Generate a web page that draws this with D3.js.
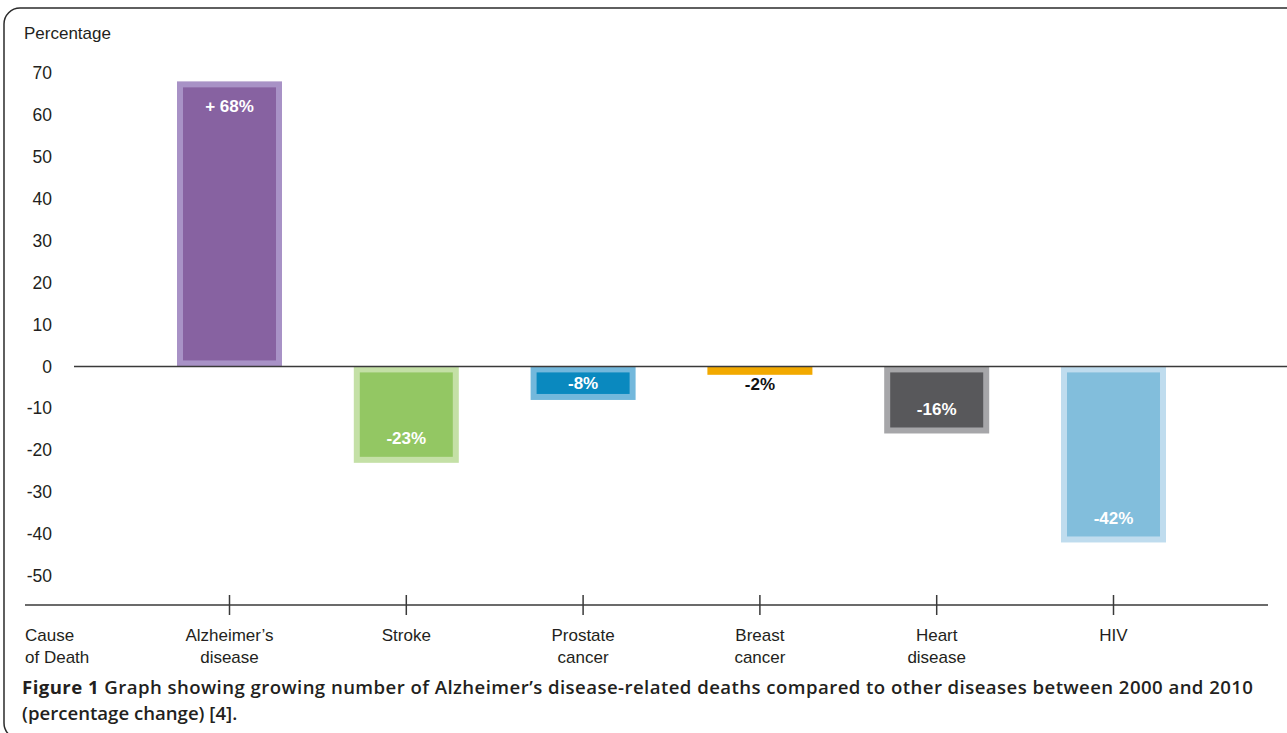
<!DOCTYPE html>
<html>
<head>
<meta charset="utf-8">
<script src="https://cdn.jsdelivr.net/npm/d3@7"></script>
<style>
  html, body { margin: 0; padding: 0; background: #ffffff; }
  svg { display: block; }
</style>
</head>
<body>
<svg id="chart" width="1287" height="733"></svg>
<script>
// Percentage change in deaths, 2000–2010, by cause
const causes = ["Alzheimer’s disease", "Stroke", "Prostate cancer", "Breast cancer", "Heart disease", "HIV"];
const causeLines = [["Alzheimer’s", "disease"], ["Stroke"], ["Prostate", "cancer"], ["Breast", "cancer"], ["Heart", "disease"], ["HIV"]];
const changes = [68, -23, -8, -2, -16, -42];
const changeLabels = ["+ 68%", "-23%", "-8%", "-2%", "-16%", "-42%"];
const yTicks = [70, 60, 50, 40, 30, 20, 10, 0, -10, -20, -30, -40, -50];
const captionBold = "Figure 1";
const captionLine1 = " Graph showing growing number of Alzheimer’s disease-related deaths compared to other diseases between 2000 and 2010";
const captionLine2 = "(percentage change) [4].";

// Fill and rim colours per bar
const fillColors = ["#8762a1", "#93c763", "#0a89bf", "#f2a900", "#58585b", "#82bedc"];
const rimColors  = ["#a892c6", "#c4e0a6", "#73b8dc", "#f2a900", "#a6a6a9", "#bfdcee"];
const labelColors = ["#ffffff", "#ffffff", "#ffffff", "#111111", "#ffffff", "#ffffff"];

const svg = d3.select("#chart");
const FONT = "'Liberation Sans', Arial, Helvetica, sans-serif";
const textColor = "#231f20";

// Rounded frame around the figure
svg.append("rect")
  .attr("x", 4).attr("y", 8)
  .attr("width", 1300).attr("height", 731)
  .attr("rx", 16).attr("ry", 16)
  .attr("fill", "none")
  .attr("stroke", "#2b2b2b")
  .attr("stroke-width", 1.5);

const y = d3.scaleLinear().domain([-50, 70]).range([576, 73]);
const x = d3.scalePoint().domain(causes).range([229.5, 1113.5]);
const barW = 105;
const rim = 6;

// Y axis title
svg.append("text")
  .attr("x", 24).attr("y", 39)
  .attr("font-family", FONT).attr("font-size", 17)
  .attr("fill", textColor)
  .text("Percentage");

// Y tick labels (no axis line), plain hyphen for negatives
const yAxis = d3.axisLeft(y).tickValues(yTicks).tickSize(0).tickPadding(0)
  .tickFormat(d => String(d));
const yg = svg.append("g").attr("transform", "translate(52,0)").call(yAxis);
yg.select(".domain").remove();
yg.selectAll("text")
  .attr("font-family", FONT).attr("font-size", 17.5)
  .attr("fill", textColor);

// Bars: light rim with a darker inset fill
const bars = svg.append("g");
causes.forEach((c, i) => {
  const v = changes[i];
  const y0 = y(0), y1 = y(v);
  const top = Math.min(y0, y1), h = Math.abs(y1 - y0);
  const left = x(c) - barW / 2;
  bars.append("rect")
    .attr("x", left).attr("y", top)
    .attr("width", barW).attr("height", h)
    .attr("fill", rimColors[i]);
  if (h > 2 * rim + 2) {
    bars.append("rect")
      .attr("x", left + rim).attr("y", top + rim)
      .attr("width", barW - 2 * rim).attr("height", h - 2 * rim)
      .attr("fill", fillColors[i]);
  }
});

// Zero line
svg.append("line")
  .attr("x1", 74).attr("x2", 1287)
  .attr("y1", y(0)).attr("y2", y(0))
  .attr("stroke", "#3a3a3a").attr("stroke-width", 1.5);

// Value labels
causes.forEach((c, i) => {
  const v = changes[i];
  const h = Math.abs(y(v) - y(0));
  let cy;
  if (h < 20) cy = y(0) + 17;             // tiny bar: label sits below it
  else if (h < 60) cy = (y(0) + y(v)) / 2; // short bar: centred
  else cy = v > 0 ? y(v) + 24 : y(v) - 25; // near the bar's end
  svg.append("text")
    .attr("x", x(c)).attr("y", cy)
    .attr("dy", "0.36em")
    .attr("text-anchor", "middle")
    .attr("font-family", FONT).attr("font-size", 17).attr("font-weight", 700)
    .attr("fill", labelColors[i])
    .text(changeLabels[i]);
});

// Category axis at the bottom
const axisY = 605;
svg.append("line")
  .attr("x1", 25).attr("x2", 1268)
  .attr("y1", axisY).attr("y2", axisY)
  .attr("stroke", "#3a3a3a").attr("stroke-width", 1.5);
svg.append("g").selectAll("line").data(causes).join("line")
  .attr("x1", d => x(d)).attr("x2", d => x(d))
  .attr("y1", axisY - 10).attr("y2", axisY + 10)
  .attr("stroke", "#3a3a3a").attr("stroke-width", 1.5);

const catG = svg.append("g")
  .attr("font-family", FONT).attr("font-size", 17).attr("fill", textColor);
causes.forEach((c, i) => {
  const t = catG.append("text").attr("text-anchor", "middle");
  causeLines[i].forEach((line, k) => {
    t.append("tspan").attr("x", x(c)).attr("y", 641 + k * 22).text(line);
  });
});
const causeTitle = catG.append("text").attr("text-anchor", "start");
["Cause", "of Death"].forEach((line, k) => {
  causeTitle.append("tspan").attr("x", 25).attr("y", 641 + k * 22).text(line);
});

// Caption
const cap = svg.append("g")
  .attr("font-family", "'Open Sans', 'Noto Sans', sans-serif")
  .attr("font-size", 18.6).attr("fill", textColor);
const c1 = cap.append("text").attr("x", 22).attr("y", 694)
  .attr("textLength", 1231).attr("lengthAdjust", "spacing");
c1.append("tspan").attr("font-weight", 700).text(captionBold);
c1.append("tspan").attr("font-weight", 600).text(captionLine1);
cap.append("text").attr("x", 22).attr("y", 720)
  .attr("font-weight", 600).text(captionLine2);
</script>
</body>
</html>
